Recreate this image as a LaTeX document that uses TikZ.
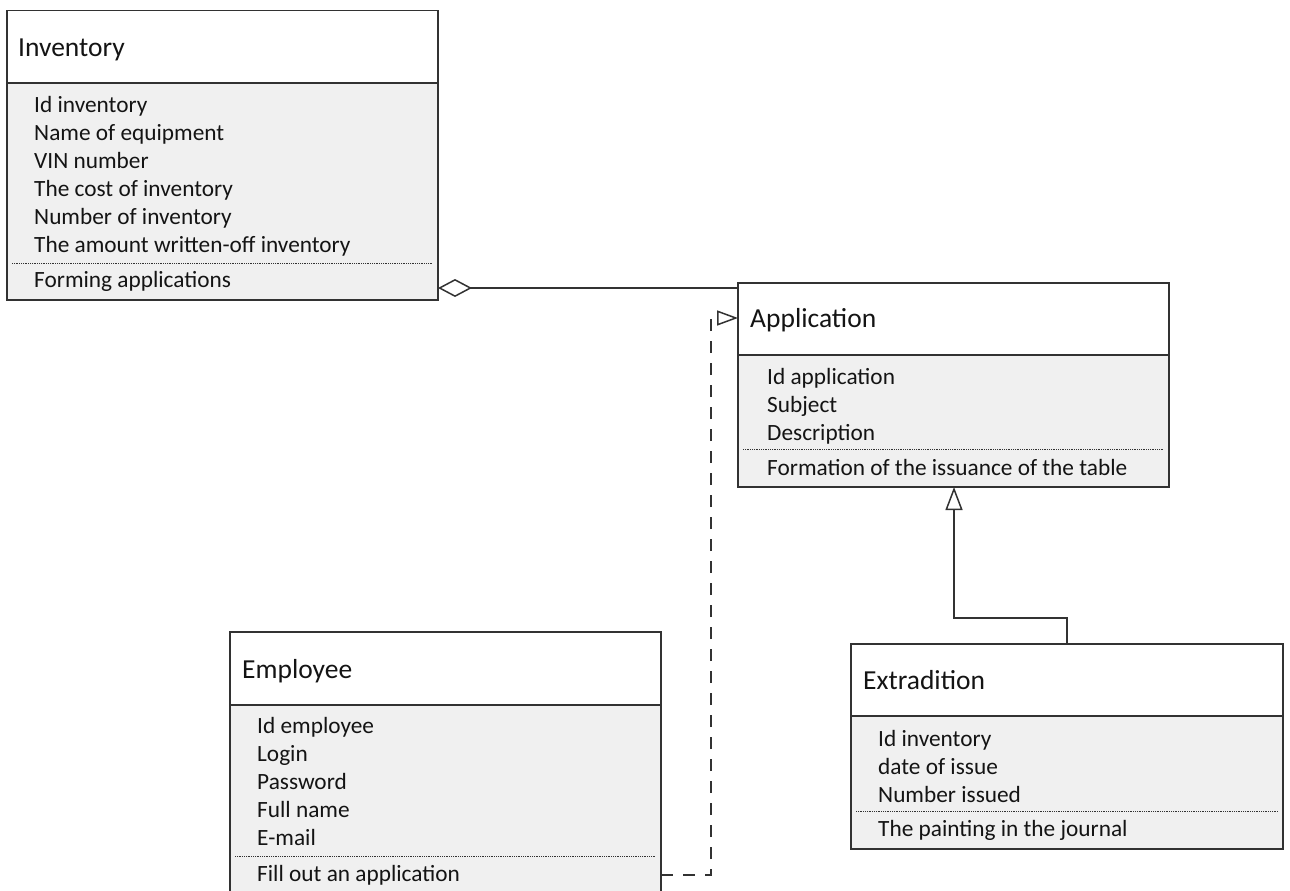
\documentclass[tikz,border=0pt]{standalone}
\usepackage{fontspec}
\setmainfont{Carlito}
\usetikzlibrary{arrows.meta,calc}
\definecolor{linecol}{RGB}{50,50,50}
\definecolor{bodyfill}{RGB}{240,240,240}
\definecolor{textcol}{RGB}{20,20,20}
\begin{document}
\begin{tikzpicture}[x=1pt,y=-1pt,
  outline/.style={draw=linecol, line width=1.5pt},
  bodybox/.style={outline, fill=bodyfill, anchor=north west, inner sep=0pt, outer sep=0pt},
  headbox/.style={outline, fill=white, anchor=north west, inner sep=0pt, outer sep=0pt},
  classtitle/.style={anchor=base west, inner sep=0pt, text=textcol, font=\fontsize{27.5}{32}\selectfont},
  member/.style={anchor=base west, inner sep=0pt, text=textcol, font=\fontsize{23.3}{28}\selectfont},
  divider/.style={draw=linecol, line width=1pt, dash pattern=on 1pt off 0.8pt},
  connector/.style={draw=linecol, line width=1.5pt},
  depline/.style={connector, dash pattern=on 12pt off 10pt},
]
\useasboundingbox (0,0) rectangle (1290,891);
\clip (0,0) rectangle (1290,891);

% ---------- Inventory ----------
\node[bodybox, minimum width=431, minimum height=289.5] (inv) at (7,10.5) {};
\node[headbox, minimum width=431, minimum height=72.5] (invhead) at (7,10.5) {};
\node[classtitle] (invtitle) at (18,57) {Inventory};
\foreach \t [count=\i] in {Id inventory, Name of equipment, VIN number,
    The cost of inventory, Number of inventory, The amount written-off inventory}
  \node[member] (inv-a\i) at (34,84+28*\i) {\t};
\draw[divider] (12,263) -- (433,263);
\node[member] (inv-m1) at (34,287) {Forming applications};

% ---------- Application ----------
\node[bodybox, minimum width=431, minimum height=204] (app) at (738,283) {};
\node[headbox, minimum width=431, minimum height=72] (apphead) at (738,283) {};
\node[classtitle] (apptitle) at (750,327) {Application};
\foreach \t [count=\i] in {Id application, Subject, Description}
  \node[member] (app-a\i) at (767,356+28*\i) {\t};
\draw[divider] (743,449.5) -- (1164,449.5);
\node[member] (app-m1) at (767,475) {Formation of the issuance of the table};

% ---------- Employee ----------
\node[bodybox, minimum width=431, minimum height=262] (emp) at (230,632) {};
\node[headbox, minimum width=431, minimum height=73] (emphead) at (230,632) {};
\node[classtitle] (emptitle) at (242,678) {Employee};
\foreach \t [count=\i] in {Id employee, Login, Password, Full name, E-mail}
  \node[member] (emp-a\i) at (257,705+28*\i) {\t};
\draw[divider] (235,856) -- (656,856);
\node[member] (emp-m1) at (257,881) {Fill out an application};

% ---------- Extradition ----------
\node[bodybox, minimum width=432, minimum height=205] (ext) at (851,644) {};
\node[headbox, minimum width=432, minimum height=72] (exthead) at (851,644) {};
\node[classtitle] (exttitle) at (863,689) {Extradition};
\foreach \t [count=\i] in {Id inventory, date of issue, Number issued}
  \node[member] (ext-a\i) at (878,718+28*\i) {\t};
\draw[divider] (856,811) -- (1278,811);
\node[member] (ext-m1) at (878,836) {The painting in the journal};

% ---------- Relations ----------
% aggregation: Inventory <>--- Application
\coordinate (agg) at (0,288);
\draw[connector, {Diamond[open,length=34pt,width=18pt]}-]
  (inv.east |- agg) -- (app.west |- agg);

% dependency: Employee - - -|> Application
\coordinate (depLow) at (711,875);
\coordinate (depHigh) at (711,318);
\draw[depline, -{Triangle[open,length=21pt,width=15pt]}]
  (emp.east |- depLow) -- (depLow) -- (depHigh) -- (app.west |- depHigh);

% generalization: Extradition ---|> Application
\coordinate (genBend) at (1067,618);
\coordinate (genTurn) at (954,618);
\draw[connector, -{Triangle[open,length=23pt,width=17pt]}]
  (ext.north -| genBend) -- (genBend) -- (genTurn) -- (app.south -| genTurn);
\end{tikzpicture}
\end{document}
